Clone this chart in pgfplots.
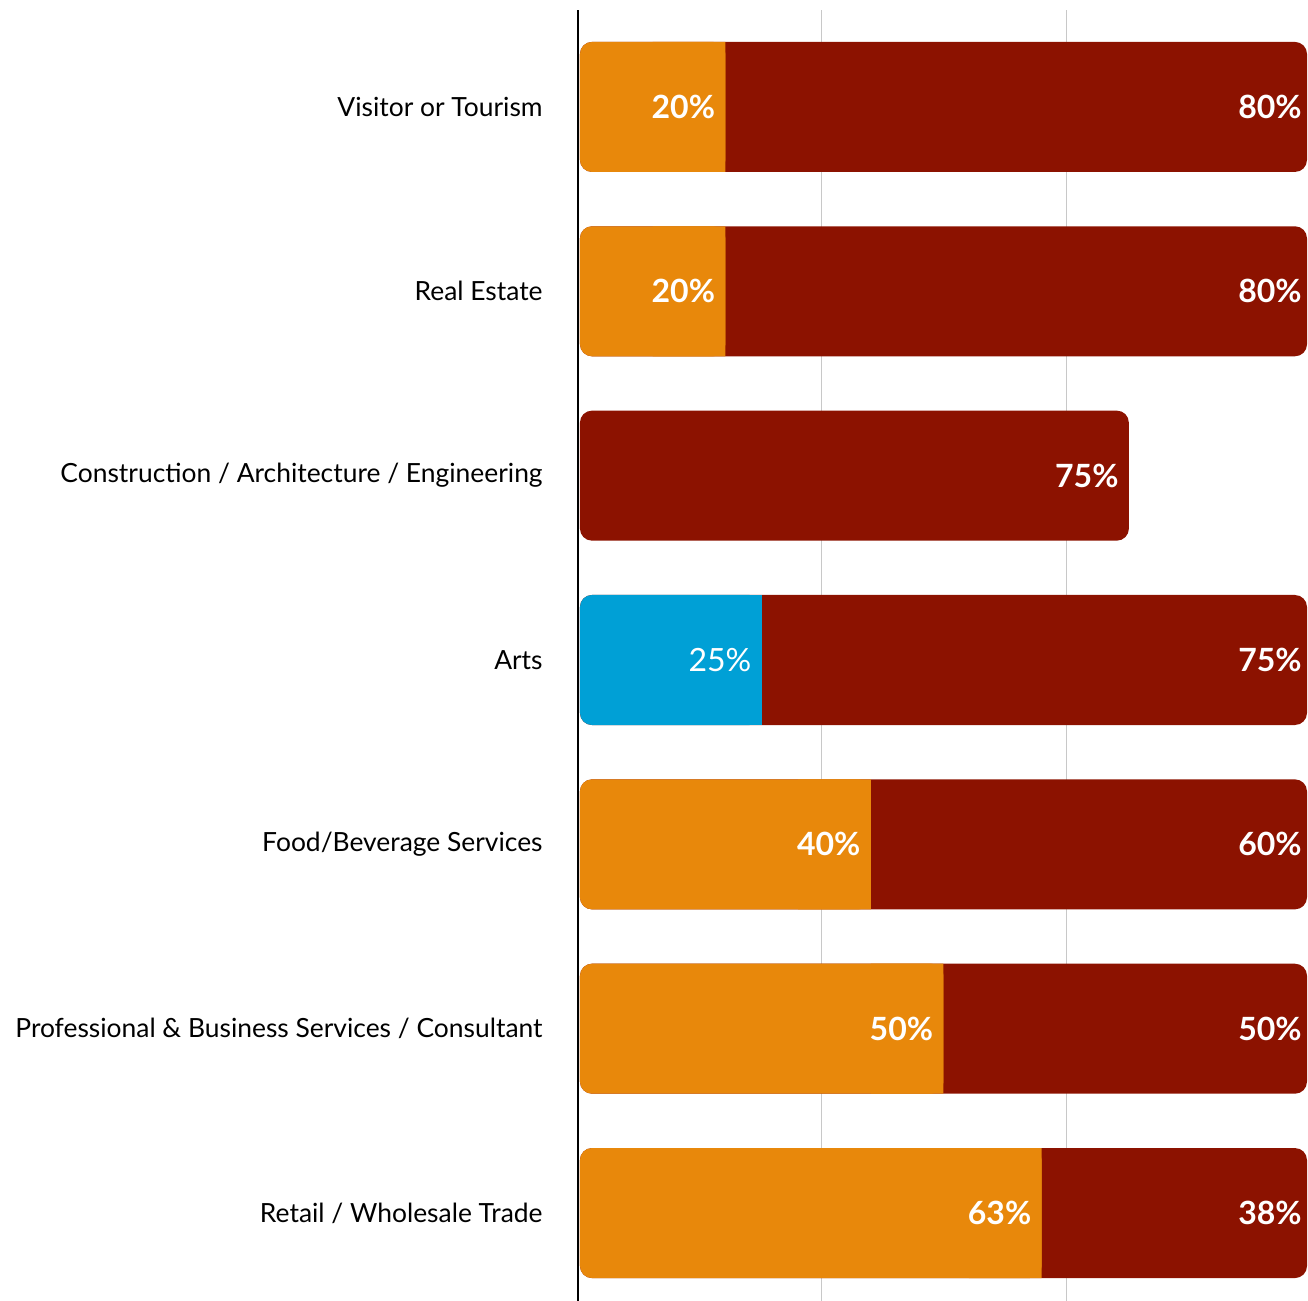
\documentclass[border=0pt]{standalone}
\usepackage{fontspec}
\setmainfont{Lato}
\usepackage{pgfplots}
\pgfplotsset{compat=1.18}
\definecolor{cOrange}{RGB}{232,136,11}
\definecolor{cRed}{RGB}{140,18,0}
\definecolor{cBlue}{RGB}{0,160,214}
\definecolor{cGrid}{RGB}{200,200,200}
\pgfplotsset{
  base/.style={
    scale only axis, width=364.5pt, height=645.5pt,
    at={(289pt,0pt)}, anchor=south west,
    xmin=-0.27, xmax=100, ymin=-0.477, ymax=6.526,
    bar width=65pt,
  },
}
\tikzset{
  vlab/.style={font=\bfseries\fontsize{16}{18}\selectfont, text=white, anchor=east, xshift=-5pt, inner sep=0pt},
}
\begin{document}
\begin{tikzpicture}
\useasboundingbox (0,0) rectangle (654pt,650.5pt);
\begin{axis}[base, xbar, bar shift=0pt,
  axis y line*=left, axis x line*=bottom,
  x axis line style={draw=none},
  y axis line style={line width=1pt, black},
  xtick={33.2,66.9}, xticklabels={},
  xmajorgrids, grid style={cGrid, line width=0.5pt},
  major tick length=0pt,
  ytick={0,...,6},
  yticklabels={Retail / Wholesale Trade, Professional \& Business Services / Consultant, Food/Beverage Services, Arts, Construction / Architecture / Engineering, Real Estate, Visitor or Tourism},
  yticklabel style={font=\fontsize{13.2}{16}\selectfont, inner sep=0pt, xshift=-17.5pt},
]
\addplot[fill=cRed, draw=none, rounded corners=6pt, bar shift=0pt,
  point meta=explicit symbolic, nodes near coords, nodes near coords style={vlab, xshift=2.5pt}]
  coordinates {(100,6)[80\%] (100,5)[80\%] (100,3)[75\%] (100,2)[60\%] (100,1)[50\%] (100,0)[38\%]};
\addplot[fill=cRed, draw=none, rounded corners=6pt, bar shift=0pt,
  point meta=explicit symbolic, nodes near coords, nodes near coords style={vlab}]
  coordinates {(75.5,4)[75\%]};
\addplot[fill=cOrange, draw=none, rounded corners=6pt, bar shift=0pt]
  coordinates {(20,6) (20,5) (40,2) (50,1) (63.5,0)};
\addplot[fill=cBlue, draw=none, rounded corners=6pt, bar shift=0pt]
  coordinates {(25,3)};
\end{axis}
\begin{axis}[base, xbar stacked, hide axis]
% invisible offset, then a square-ended piece that covers the rounded right end
\addplot[draw=none, fill=none]
  coordinates {(10,6) (10,5) (0,4) (15,3) (30,2) (40,1) (53.5,0)};
\addplot[fill=cOrange, draw=none]
  coordinates {(10,6) (10,5) (0,4) (0,3) (10,2) (10,1) (10,0)};
\addplot[fill=cBlue, draw=none]
  coordinates {(0,6) (0,5) (0,4) (10,3) (0,2) (0,1) (0,0)};
\end{axis}
\begin{axis}[base, xbar, bar shift=0pt, hide axis]
% labels at the end of the first segment
\addplot[draw=none, fill=none, bar shift=0pt,
  point meta=explicit symbolic, nodes near coords, nodes near coords style={vlab}]
  coordinates {(20,6)[20\%] (20,5)[20\%] (40,2)[40\%] (50,1)[50\%] (63.5,0)[63\%]};
\addplot[draw=none, fill=none, bar shift=0pt,
  point meta=explicit symbolic, nodes near coords, nodes near coords style={vlab, font=\fontsize{16}{18}\selectfont}]
  coordinates {(25,3)[25\%]};
\end{axis}
\end{tikzpicture}
\end{document}
